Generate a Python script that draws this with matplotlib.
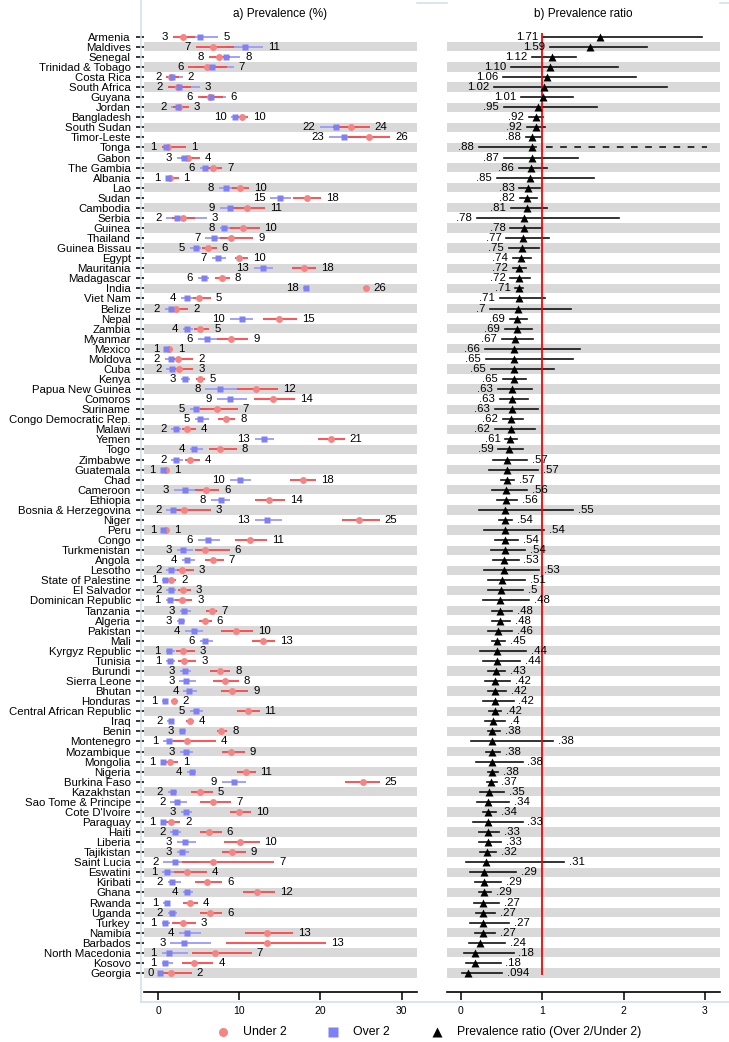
import numpy as np
import matplotlib
matplotlib.use("Agg")
import matplotlib.pyplot as plt
from matplotlib.lines import Line2D

plt.rcParams['font.family'] = ['Liberation Sans', 'DejaVu Sans']

countries = ["Armenia", "Maldives", "Senegal", "Trinidad & Tobago", "Costa Rica", "South Africa",
             "Guyana", "Jordan", "Bangladesh", "South Sudan", "Timor-Leste", "Tonga", "Gabon",
             "The Gambia", "Albania", "Lao", "Sudan", "Cambodia", "Serbia", "Guinea", "Thailand",
             "Guinea Bissau", "Egypt", "Mauritania", "Madagascar", "India", "Viet Nam", "Belize",
             "Nepal", "Zambia", "Myanmar", "Mexico", "Moldova", "Cuba", "Kenya", "Papua New Guinea",
             "Comoros", "Suriname", "Congo Democratic Rep.", "Malawi", "Yemen", "Togo", "Zimbabwe",
             "Guatemala", "Chad", "Cameroon", "Ethiopia", "Bosnia & Herzegovina", "Niger", "Peru",
             "Congo", "Turkmenistan", "Angola", "Lesotho", "State of Palestine", "El Salvador",
             "Dominican Republic", "Tanzania", "Algeria", "Pakistan", "Mali", "Kyrgyz Republic",
             "Tunisia", "Burundi", "Sierra Leone", "Bhutan", "Honduras", "Central African Republic",
             "Iraq", "Benin", "Montenegro", "Mozambique", "Mongolia", "Nigeria", "Burkina Faso",
             "Kazakhstan", "Sao Tome & Principe", "Cote D'Ivoire", "Paraguay", "Haiti", "Liberia",
             "Tajikistan", "Saint Lucia", "Eswatini", "Kiribati", "Ghana", "Rwanda", "Uganda",
             "Turkey", "Namibia", "Barbados", "North Macedonia", "Kosovo", "Georgia"]

under = [3.0, 6.7, 7.5, 6.0, 1.6, 2.47, 6.4, 2.6, 10.3, 23.8,
         26.0, 1.15, 3.7, 6.7, 1.4, 10.1, 18.3, 10.9, 3.0, 10.4,
         9.0, 6.1, 10.0, 18.0, 7.8, 25.6, 5.0, 2.2, 14.9, 5.2,
         9.0, 1.35, 2.4, 2.6, 5.1, 12.0, 14.2, 7.3, 8.4, 3.6,
         21.3, 7.55, 3.9, 1.0, 17.8, 5.9, 13.7, 3.2, 24.8, 1.0,
         11.3, 5.8, 6.7, 2.9, 1.6, 3.1, 2.9, 6.6, 5.8, 9.6,
         12.9, 3.0, 3.2, 7.6, 8.2, 9.1, 1.9, 11.1, 3.9, 7.7,
         3.6, 9.0, 1.4, 10.8, 25.2, 5.1, 6.8, 10.0, 1.6, 6.3,
         10.1, 9.1, 6.7, 3.6, 6.0, 12.2, 3.9, 6.4, 3.1, 13.4,
         13.4, 7.0, 4.4, 1.6]
under_lo = [1.8, 4.6, 6.2, 3.7, 1.0, 1.2, 4.9, 1.8, 9.8, 21.6,
            23.4, 0.4, 2.8, 6.1, 0.9, 9.1, 16.6, 9.0, 1.7, 8.8,
            7.6, 5.4, 9.4, 16.5, 7.0, 25.3, 4.3, 1.3, 12.9, 4.4,
            7.3, 1.0, 1.3, 1.5, 4.6, 9.7, 11.8, 5.1, 7.4, 2.95,
            19.7, 6.2, 3.3, 0.8, 16.2, 4.5, 11.9, 1.8, 22.7, 0.8,
            9.5, 4.5, 5.8, 2.3, 1.2, 2.4, 2.1, 5.9, 5.0, 7.7,
            11.6, 2.2, 2.4, 6.4, 6.8, 7.7, 1.6, 9.7, 3.4, 7.2,
            1.8, 7.9, 0.8, 9.7, 23.0, 4.0, 5.1, 8.8, 1.0, 5.1,
            8.1, 7.9, 2.9, 1.9, 4.5, 10.5, 3.0, 5.1, 1.7, 10.7,
            8.4, 4.1, 2.9, 0.5]
under_hi = [4.5, 9.3, 8.9, 8.5, 2.6, 4.0, 8.0, 3.8, 11.1, 26.1,
            28.6, 3.4, 5.1, 7.9, 2.5, 11.2, 20.1, 13.2, 4.5, 12.5,
            11.7, 7.2, 11.1, 19.5, 8.8, 25.9, 6.5, 3.7, 17.1, 6.3,
            11.1, 1.8, 4.3, 4.3, 5.7, 14.8, 16.9, 9.8, 9.5, 4.6,
            23.0, 9.7, 5.1, 1.3, 19.5, 7.5, 15.6, 6.45, 27.3, 1.3,
            13.4, 8.8, 8.1, 4.4, 2.2, 4.0, 4.2, 7.2, 6.6, 11.7,
            14.4, 4.5, 4.7, 8.9, 9.9, 11.1, 2.4, 12.5, 4.4, 8.5,
            7.1, 10.7, 2.4, 12.0, 27.3, 6.7, 9.0, 11.4, 2.7, 7.8,
            12.5, 10.8, 14.3, 6.0, 7.9, 14.4, 4.9, 7.9, 4.6, 16.6,
            20.7, 11.5, 6.8, 4.1]

over = [5.1, 10.65, 8.4, 6.6, 1.7, 2.52, 6.45, 2.45, 9.5, 21.9,
        22.9, 1.01, 3.2, 5.8, 1.2, 8.4, 15.0, 8.8, 2.34, 8.1,
        6.9, 4.6, 7.4, 12.96, 5.6, 18.2, 3.55, 1.54, 10.3, 3.6,
        6.0, 0.9, 1.56, 1.7, 3.3, 7.56, 8.9, 4.6, 5.2, 2.2,
        13.0, 4.45, 2.2, 0.57, 10.1, 3.3, 7.7, 1.76, 13.4, 0.54,
        6.1, 3.1, 3.55, 1.54, 0.82, 1.55, 1.39, 3.17, 2.78, 4.4,
        5.8, 1.32, 1.4, 3.27, 3.44, 3.8, 0.8, 4.66, 1.56, 2.9,
        1.37, 3.4, 0.53, 4.1, 9.3, 1.8, 2.3, 3.4, 0.53, 2.08,
        3.33, 2.9, 2.08, 1.04, 1.74, 3.54, 1.05, 1.73, 0.84, 3.6,
        3.2, 1.26, 0.79, 0.15]
over_lo = [3.3, 8.4, 7.3, 4.5, 1.2, 1.3, 5.3, 1.6, 9.0, 19.9,
           21.0, 0.5, 2.3, 5.1, 0.9, 7.5, 13.8, 7.6, 1.0, 7.6,
           5.8, 3.9, 6.6, 11.8, 4.9, 17.9, 2.8, 0.8, 8.8, 3.0,
           4.9, 0.7, 0.8, 1.0, 2.8, 5.8, 7.2, 3.9, 4.5, 1.6,
           11.9, 3.9, 1.6, 0.3, 8.8, 1.9, 6.5, 1.0, 11.9, 0.4,
           4.9, 2.3, 2.9, 1.0, 0.5, 1.0, 0.9, 2.7, 2.3, 3.3,
           5.1, 0.9, 1.0, 2.7, 2.6, 3.1, 0.5, 3.9, 1.1, 2.5,
           0.6, 2.7, 0.3, 3.5, 7.8, 1.2, 1.5, 2.8, 0.3, 1.5,
           2.3, 2.3, 0.6, 0.5, 1.2, 3.0, 0.6, 1.2, 0.4, 2.5,
           1.5, 0.4, 0.4, 0.0]
over_hi = [7.4, 12.9, 10.1, 9.3, 3.0, 5.1, 8.3, 3.2, 10.0, 24.5,
           25.0, 1.8, 4.3, 6.7, 1.8, 9.3, 16.4, 10.0, 6.0, 9.2,
           8.4, 5.3, 8.3, 14.2, 6.2, 18.5, 4.4, 2.6, 11.7, 4.3,
           7.4, 1.2, 2.5, 2.4, 3.9, 9.7, 10.9, 6.0, 6.3, 2.8,
           14.3, 5.5, 3.1, 0.9, 11.4, 4.7, 8.8, 2.8, 15.2, 0.9,
           7.6, 4.3, 4.5, 2.3, 1.2, 2.2, 2.0, 4.0, 3.3, 5.5,
           6.8, 2.0, 2.0, 4.0, 4.7, 4.8, 1.0, 5.5, 1.9, 3.4,
           3.0, 4.3, 0.9, 4.7, 10.8, 2.3, 3.6, 4.1, 0.9, 2.8,
           4.7, 3.8, 5.0, 1.9, 2.8, 4.3, 1.5, 2.3, 1.4, 5.3,
           6.5, 3.7, 1.8, 0.6]

ratio = [1.71, 1.59, 1.12, 1.10, 1.06, 1.02, 1.01, .95, .92, .92,
         .88, .88, .87, .86, .85, .83, .82, .81, .78, .78,
         .77, .75, .74, .72, .72, .71, .71, .70, .69, .69,
         .67, .66, .65, .65, .65, .63, .63, .63, .62, .62,
         .61, .59, .57, .57, .57, .56, .56, .55, .54, .54,
         .54, .54, .53, .53, .51, .50, .48, .48, .48, .46,
         .45, .44, .44, .43, .42, .42, .42, .42, .40, .38,
         .38, .38, .38, .38, .37, .35, .34, .34, .33, .33,
         .33, .32, .31, .29, .29, .29, .27, .27, .27, .27,
         .24, .18, .18, .094]
ratio_lo = [1.01, 1.10, 0.88, 0.62, 0.52, 0.41, 0.74, 0.53, 0.84, 0.81,
            0.80, 0.22, 0.53, 0.71, 0.44, 0.72, 0.73, 0.62, 0.20, 0.61,
            0.56, 0.59, 0.64, 0.64, 0.61, 0.67, 0.48, 0.36, 0.60, 0.54,
            0.51, 0.30, 0.31, 0.37, 0.52, 0.46, 0.48, 0.42, 0.52, 0.42,
            0.55, 0.46, 0.40, 0.35, 0.50, 0.39, 0.45, 0.22, 0.47, 0.29,
            0.42, 0.37, 0.40, 0.29, 0.34, 0.33, 0.28, 0.38, 0.39, 0.34,
            0.38, 0.24, 0.27, 0.34, 0.30, 0.33, 0.27, 0.35, 0.30, 0.33,
            0.13, 0.31, 0.19, 0.33, 0.32, 0.24, 0.20, 0.28, 0.15, 0.23,
            0.22, 0.24, 0.07, 0.12, 0.18, 0.23, 0.16, 0.19, 0.12, 0.18,
            0.10, 0.04, 0.07, 0.02]
ratio_hi = [2.96, 2.29, 1.42, 1.93, 2.15, 2.53, 1.38, 1.68, 1.01, 1.04,
            0.99, 5.00, 1.44, 1.06, 1.64, 0.97, 0.94, 1.06, 1.94, 1.00,
            1.08, 0.96, 0.86, 0.80, 0.85, 0.77, 1.04, 1.35, 0.82, 0.88,
            0.89, 1.47, 1.38, 1.15, 0.80, 0.87, 0.83, 0.95, 0.76, 0.91,
            0.69, 0.77, 0.82, 0.95, 0.66, 0.81, 0.69, 1.38, 0.63, 1.02,
            0.70, 0.79, 0.71, 0.96, 0.79, 0.77, 0.84, 0.63, 0.61, 0.63,
            0.54, 0.80, 0.73, 0.55, 0.61, 0.56, 0.65, 0.50, 0.54, 0.48,
            1.13, 0.48, 0.76, 0.46, 0.44, 0.53, 0.59, 0.43, 0.76, 0.47,
            0.50, 0.43, 1.27, 0.68, 0.50, 0.37, 0.47, 0.42, 0.59, 0.42,
            0.55, 0.65, 0.49, 0.51]
ratio_text = ["1.71", "1.59", "1.12", "1.10", "1.06", "1.02", "1.01", ".95", ".92", ".92",
              ".88", ".88", ".87", ".86", ".85", ".83", ".82", ".81", ".78", ".78",
              ".77", ".75", ".74", ".72", ".72", ".71", ".71", ".7", ".69", ".69",
              ".67", ".66", ".65", ".65", ".65", ".63", ".63", ".63", ".62", ".62",
              ".61", ".59", ".57", ".57", ".57", ".56", ".56", ".55", ".54", ".54",
              ".54", ".54", ".53", ".53", ".51", ".5", ".48", ".48", ".48", ".46",
              ".45", ".44", ".44", ".43", ".42", ".42", ".42", ".42", ".4", ".38",
              ".38", ".38", ".38", ".38", ".37", ".35", ".34", ".34", ".33", ".33",
              ".33", ".32", ".31", ".29", ".29", ".29", ".27", ".27", ".27", ".27",
              ".24", ".18", ".18", ".094"]

prev_ticks = [0, 10, 20, 30]
ratio_ticks = [0, 1, 2, 3]

# ---------------- layout ----------------
W, H = 729, 1042
fig = plt.figure(figsize=(W / 100, H / 100), dpi=100)
fig.patch.set_facecolor('white')

def fx(px):
    return px / W

def fy(py):
    return 1 - py / H

top_px, bot_px = 20.0, 991.7
n = len(countries)
yy = np.arange(1, n + 1)
ylim = (n + 1.857, 1 - 1.658)

axL = fig.add_axes([fx(144), fy(bot_px), (417 - 144) / W, (bot_px - top_px) / H])
axR = fig.add_axes([fx(446.7), fy(bot_px), (720 - 446.7) / W, (bot_px - top_px) / H])

axL.set_xlim(-1.763, 31.90)
axR.set_xlim(-0.172, 3.185)

RED_LINE = '#FF4545'
RED_MK = '#F58585'
BLUE_LINE = '#9A9AFF'
BLUE_MK = '#8080F5'
GRAY = '#D9D9D9'
FS = 8.2

for ax in (axL, axR):
    ax.set_ylim(*ylim)
    for k in yy:
        if k % 2 == 0:
            ax.axhspan(k - 0.46, k + 0.46, color=GRAY, lw=0, zorder=0)
    for s in ('top', 'right', 'left'):
        ax.spines[s].set_visible(False)
    ax.spines['bottom'].set_linewidth(1.2)
    ax.tick_params(axis='x', length=5.5, width=1.1, labelsize=7.5, pad=4.5)
    ax.set_facecolor('white')

# ---------------- panel a ----------------
axL.hlines(yy, over_lo, over_hi, color=BLUE_LINE, lw=1.3, zorder=2)
axL.hlines(yy, under_lo, under_hi, color=RED_LINE, lw=1.3, zorder=3)
axL.plot(under, yy, 'o', color=RED_MK, ms=5.0, mec='none', zorder=4)
axL.plot(over, yy, 's', color=BLUE_MK, ms=5.0, mec='none', zorder=5)

def r0(v):
    return str(int(np.floor(v + 0.5)))

for i in range(n):
    lo_val = min(under[i], over[i])
    hi_val = max(under[i], over[i])
    lo_pos = min(under_lo[i], over_lo[i])
    hi_pos = max(under_hi[i], over_hi[i])
    axL.annotate(r0(lo_val), (lo_pos, yy[i]), xytext=(-3.5, 0), textcoords='offset points',
                 ha='right', va='center', fontsize=FS, zorder=6)
    axL.annotate(r0(hi_val), (hi_pos, yy[i]), xytext=(3.5, 0), textcoords='offset points',
                 ha='left', va='center', fontsize=FS, zorder=6)

axL.set_yticks(yy)
axL.set_yticklabels(countries, fontsize=FS)
axL.tick_params(axis='y', length=6, width=1.1, pad=3.5)
axL.set_xticks(prev_ticks)

# ---------------- panel b ----------------
xmax_r = 3.03
for i in range(n):
    if ratio_hi[i] > axR.get_xlim()[1]:
        axR.plot([ratio_lo[i], ratio[i] + 0.05], [yy[i], yy[i]], color='#111111', lw=1.2, zorder=2)
        axR.plot([ratio[i] + 0.17, xmax_r], [yy[i], yy[i]], color='#111111', lw=1.2,
                 dashes=(4, 4.5), zorder=2)
    else:
        axR.plot([ratio_lo[i], ratio_hi[i]], [yy[i], yy[i]], color='#111111', lw=1.2, zorder=2)
axR.vlines(1, 0.63, n + 0.2, color='red', lw=1.3, zorder=3)
axR.plot(ratio, yy, '^', color='black', ms=6.4, mec='none', zorder=4)

for i in range(n):
    if ratio[i] >= 0.58:
        axR.annotate(ratio_text[i], (ratio_lo[i], yy[i]), xytext=(-3.5, 0),
                     textcoords='offset points', ha='right', va='center', fontsize=FS, zorder=6)
    else:
        axR.annotate(ratio_text[i], (ratio_hi[i], yy[i]), xytext=(3.5, 0),
                     textcoords='offset points', ha='left', va='center', fontsize=FS, zorder=6)

axR.set_yticks([])
axR.set_xticks(ratio_ticks)

# ---------------- titles ----------------
fig.text(fx(280.5), fy(14), "a) Prevalence (%)", ha='center', va='center', fontsize=8.5)
fig.text(fx(583.3), fy(14), "b) Prevalence ratio", ha='center', va='center', fontsize=8.5)

# ---------------- light frame ----------------
FRAME = '#D3E1EA'
fig.add_artist(Line2D([fx(140.5), fx(140.5)], [fy(0), fy(1002)], color=FRAME, lw=1.2))
fig.add_artist(Line2D([fx(140.5), fx(729)], [fy(1002), fy(1002)], color=FRAME, lw=1.2))
fig.add_artist(Line2D([fx(417), fx(447)], [fy(3), fy(3)], color=FRAME, lw=1.2))
fig.add_artist(Line2D([fx(720), fx(729)], [fy(3), fy(3)], color=FRAME, lw=1.2))

# ---------------- legend ----------------
ly = fy(1031.7)
fig.add_artist(Line2D([fx(223)], [ly], marker='o', color=RED_MK, ms=6.5, mec='none', ls='none'))
fig.text(fx(243), ly, "Under 2", ha='left', va='center', fontsize=8.8)
fig.add_artist(Line2D([fx(333)], [ly], marker='s', color=BLUE_MK, ms=6.5, mec='none', ls='none'))
fig.text(fx(353), ly, "Over 2", ha='left', va='center', fontsize=8.8)
fig.add_artist(Line2D([fx(437)], [ly], marker='^', color='black', ms=7, mec='none', ls='none'))
fig.text(fx(457), ly, "Prevalence ratio (Over 2/Under 2)", ha='left', va='center', fontsize=8.8)

fig.savefig("out.png", dpi=100, facecolor='white')
